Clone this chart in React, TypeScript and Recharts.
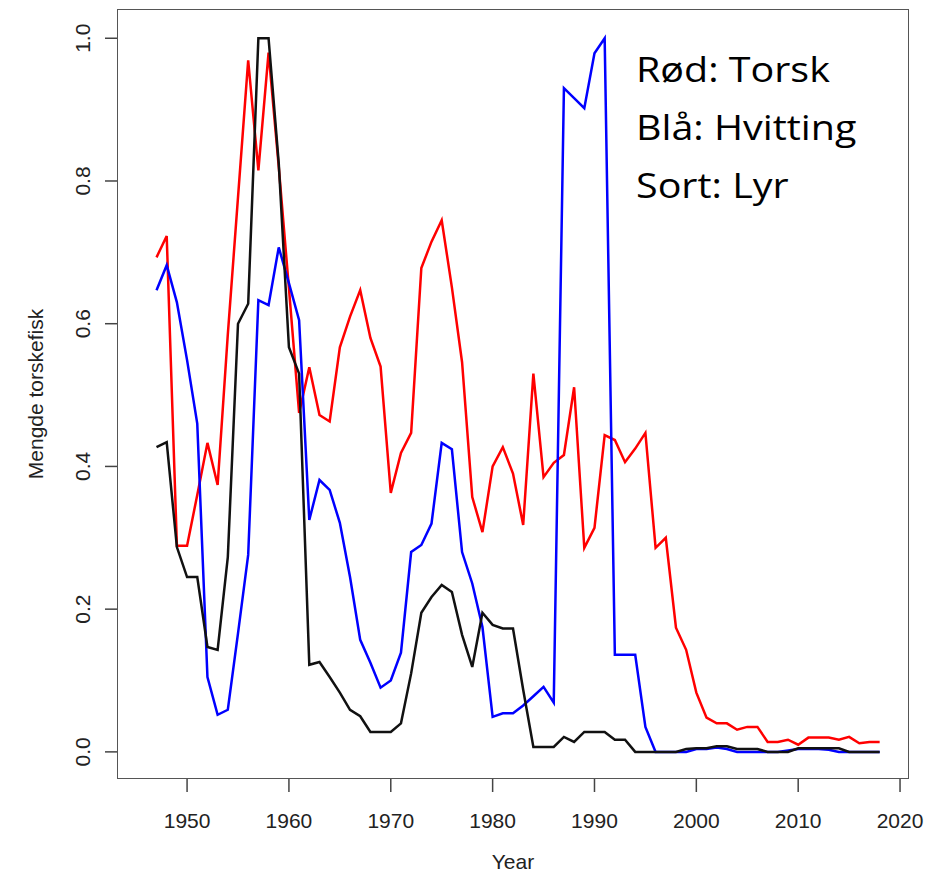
import { LineChart, Line, XAxis, YAxis } from "recharts";

const years = [
  1947, 1948, 1949, 1950, 1951, 1952, 1953, 1954, 1955, 1956,
  1957, 1958, 1959, 1960, 1961, 1962, 1963, 1964, 1965, 1966,
  1967, 1968, 1969, 1970, 1971, 1972, 1973, 1974, 1975, 1976,
  1977, 1978, 1979, 1980, 1981, 1982, 1983, 1984, 1985, 1986,
  1987, 1988, 1989, 1990, 1991, 1992, 1993, 1994, 1995, 1996,
  1997, 1998, 1999, 2000, 2001, 2002, 2003, 2004, 2005, 2006,
  2007, 2008, 2009, 2010, 2011, 2012, 2013, 2014, 2015, 2016,
  2017, 2018,
];

// Rød: Torsk
const torsk = [
  0.693, 0.723, 0.289, 0.289, 0.36, 0.433, 0.374, 0.585, 0.777, 0.969,
  0.815, 0.98, 0.82, 0.65, 0.475, 0.539, 0.472, 0.463, 0.567, 0.61,
  0.647, 0.58, 0.54, 0.363, 0.419, 0.447, 0.678, 0.715, 0.745, 0.651,
  0.546, 0.357, 0.308, 0.4, 0.427, 0.39, 0.318, 0.53, 0.385, 0.405,
  0.416, 0.511, 0.286, 0.314, 0.444, 0.437, 0.406, 0.425, 0.447, 0.286,
  0.3, 0.174, 0.143, 0.083, 0.048, 0.04, 0.04, 0.031, 0.035, 0.035,
  0.014, 0.014, 0.017, 0.01, 0.02, 0.02, 0.02, 0.017, 0.021, 0.012,
  0.014, 0.014,
];

// Blå: Hvitting
const hvitting = [
  0.647, 0.682, 0.63, 0.549, 0.46, 0.105, 0.052, 0.059, 0.166, 0.276,
  0.633, 0.626, 0.707, 0.657, 0.605, 0.325, 0.381, 0.367, 0.321, 0.245,
  0.157, 0.125, 0.09, 0.1, 0.139, 0.28, 0.29, 0.32, 0.433, 0.424,
  0.28, 0.236, 0.175, 0.049, 0.054, 0.054, 0.065, 0.078, 0.091, 0.069,
  0.93, 0.916, 0.902, 0.979, 1.0, 0.136, 0.136, 0.136, 0.035, 0.0,
  0, 0, 0, 0.004, 0.004, 0.006, 0.004, 0, 0, 0,
  0, 0, 0.002, 0.004, 0.004, 0.004, 0.003, 0, 0, 0,
  0, 0,
];

// Sort: Lyr
const lyr = [
  0.427, 0.434, 0.287, 0.245, 0.245, 0.147, 0.143, 0.273, 0.6, 0.628,
  1.0, 1.0, 0.825, 0.567, 0.53, 0.122, 0.126, 0.105, 0.083, 0.059,
  0.05, 0.028, 0.028, 0.028, 0.04, 0.11, 0.195, 0.217, 0.234, 0.224,
  0.164, 0.119, 0.195, 0.178, 0.173, 0.173, 0.087, 0.007, 0.007, 0.007,
  0.021, 0.014, 0.028, 0.028, 0.028, 0.017, 0.017, 0, 0, 0,
  0, 0, 0.004, 0.005, 0.005, 0.008, 0.008, 0.004, 0.004, 0.004,
  0, 0, 0, 0.005, 0.005, 0.005, 0.005, 0.005, 0, 0,
  0, 0,
];

const xTicks = [1950, 1960, 1970, 1980, 1990, 2000, 2010, 2020];
const yTicks = [0, 0.2, 0.4, 0.6, 0.8, 1.0];

const data = years.map((year, i) => ({
  year,
  torsk: torsk[i],
  hvitting: hvitting[i],
  lyr: lyr[i],
}));

const FONT = '"Liberation Sans", Arial, sans-serif';

const XTick = ({ x, y, payload }: any) => (
  <text x={x} y={y + 34} textAnchor="middle" fontFamily={FONT} fontSize={21} fill="#222">
    {payload.value}
  </text>
);

const YTick = ({ x, y, payload }: any) => (
  <text
    x={x - 13}
    y={y}
    textAnchor="middle"
    transform={`rotate(-90, ${x - 13}, ${y})`}
    fontFamily={FONT}
    fontSize={21}
    fill="#222"
  >
    {Number(payload.value).toFixed(1)}
  </text>
);

export default function App() {
  return (
    <div style={{ position: "absolute", left: 0, top: 0, width: 946, height: 879, background: "#fff" }}>
      <LineChart
        width={946}
        height={879}
        data={data}
        margin={{ top: 9, right: 37, bottom: 0, left: 0 }}
      >
        <XAxis
          dataKey="year"
          type="number"
          domain={[1943.12, 2020.88]}
          ticks={xTicks}
          allowDataOverflow
          height={100}
          axisLine={false}
          tickSize={13}
          tickLine={{ stroke: "#444", strokeWidth: 1.5 }}
          tick={<XTick />}
        />
        <YAxis
          type="number"
          domain={[-0.038, 1.041]}
          ticks={yTicks}
          allowDataOverflow
          width={117}
          axisLine={false}
          tickSize={12}
          tickLine={{ stroke: "#444", strokeWidth: 1.5 }}
          tick={<YTick />}
        />
        <Line dataKey="torsk" stroke="#ff0000" strokeWidth={2.5} dot={false} isAnimationActive={false} strokeLinejoin="miter" />
        <Line dataKey="hvitting" stroke="#0000ff" strokeWidth={2.5} dot={false} isAnimationActive={false} strokeLinejoin="miter" />
        <Line dataKey="lyr" stroke="#111111" strokeWidth={2.5} dot={false} isAnimationActive={false} strokeLinejoin="miter" />
      </LineChart>
      <div
        style={{
          position: "absolute",
          left: 117,
          top: 9,
          width: 792,
          height: 770,
          border: "1.5px solid #555",
          boxSizing: "border-box",
          pointerEvents: "none",
        }}
      />
      <div
        style={{
          position: "absolute",
          left: 513,
          top: 850,
          transform: "translateX(-50%)",
          fontFamily: FONT,
          fontSize: 21,
          color: "#222",
          whiteSpace: "nowrap",
        }}
      >
        Year
      </div>
      <div
        style={{
          position: "absolute",
          left: 36,
          top: 394,
          transform: "translate(-50%, -50%) rotate(-90deg)",
          fontFamily: FONT,
          fontSize: 21,
          color: "#222",
          whiteSpace: "nowrap",
        }}
      >
        Mengde torskefisk
      </div>
      <div
        style={{
          position: "absolute",
          left: 636,
          top: 40,
          fontFamily: '"Open Sans", sans-serif',
          fontSize: 34,
          lineHeight: "58px",
          color: "#000",
          transform: "scaleX(1.16)",
          transformOrigin: "left top",
          whiteSpace: "nowrap",
        }}
      >
        <div>Rød: Torsk</div>
        <div>Blå: Hvitting</div>
        <div>Sort: Lyr</div>
      </div>
    </div>
  );
}
